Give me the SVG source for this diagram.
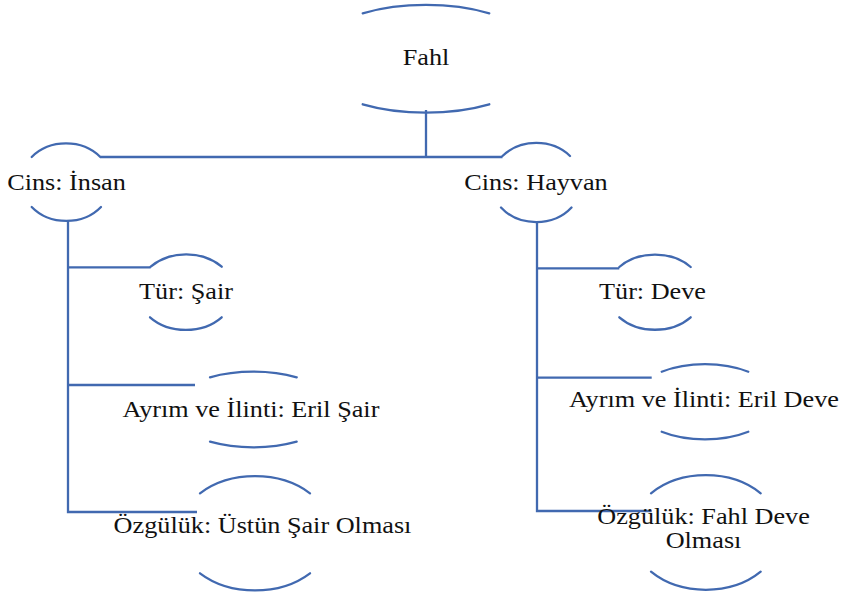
<svg xmlns="http://www.w3.org/2000/svg" width="843" height="596" viewBox="0 0 843 596">
<style>
.arc{fill:none;stroke:#4169B0;stroke-width:2.3;stroke-linecap:round}
.con{fill:none;stroke:#4169B0;stroke-width:2.3}
text{font-size:23px;fill:#111;text-anchor:middle}
</style>
<rect width="843" height="596" fill="#fff"/>
<g id="connectors">
<path class="con" d="M426,110 V157"/>
<path class="con" d="M100.3,157 H502.5"/>
<path class="con" d="M68,221 V512 H197"/>
<path class="con" d="M68,267.3 H150.7"/>
<path class="con" d="M68,385 H195"/>
<path class="con" d="M537,221 V511 H651.7"/>
<path class="con" d="M537,268.3 H619.3"/>
<path class="con" d="M537,377.7 H651.7"/>
</g>
<g id="fahl">
<path class="arc" d="M362.7,13.3 A117,52.5 0 0 1 489.3,13.3"/>
<path class="arc" d="M362.7,104.3 A117,52.5 0 0 0 489.3,104.3"/>
<text font-family="Liberation Serif, Noto Serif, DejaVu Serif, Times New Roman, serif" transform="translate(426,65) scale(1.14,1)">Fahl</text>
</g>
<g id="cins-insan">
<path class="arc" d="M31.7,157 A45,38.5 0 0 1 100.3,157"/>
<path class="arc" d="M31.7,207 A45,38.5 0 0 0 101,207"/>
<text font-family="Liberation Serif, Noto Serif, DejaVu Serif, Times New Roman, serif" transform="translate(66.5,189.5) scale(1.14,1)">Cins: İnsan</text>
</g>
<g id="cins-hayvan">
<path class="arc" d="M502.5,156 A45,38.5 0 0 1 570,156"/>
<path class="arc" d="M501,207.5 A45,38.5 0 0 0 571.5,207.5"/>
<text font-family="Liberation Serif, Noto Serif, DejaVu Serif, Times New Roman, serif" transform="translate(536,190) scale(1.14,1)">Cins: Hayvan</text>
</g>
<g id="tur-sair">
<path class="arc" d="M150.7,266.7 A48,37.5 0 0 1 221.7,266.7"/>
<path class="arc" d="M150,317.3 A48,37.5 0 0 0 221.7,317.3"/>
<text font-family="Liberation Serif, Noto Serif, DejaVu Serif, Times New Roman, serif" transform="translate(186,299) scale(1.14,1)">Tür: Şair</text>
</g>
<g id="ayrim-sair">
<path class="arc" d="M210,377.3 A83,38 0 0 1 296.7,377.3"/>
<path class="arc" d="M210,441.7 A83,38 0 0 0 296.7,441.7"/>
<text font-family="Liberation Serif, Noto Serif, DejaVu Serif, Times New Roman, serif" transform="translate(251,416.7) scale(1.14,1)">Ayrım ve İlinti: Eril Şair</text>
</g>
<g id="ozgul-sair">
<path class="arc" d="M200,493.3 A77,57 0 0 1 310,493.3"/>
<path class="arc" d="M200,573.3 A77,57 0 0 0 310,573.3"/>
<text font-family="Liberation Serif, Noto Serif, DejaVu Serif, Times New Roman, serif" transform="translate(262.5,533) scale(1.14,1)">Özgülük: Üstün Şair Olması</text>
</g>
<g id="tur-deve">
<path class="arc" d="M619.3,267 A48,37.5 0 0 1 690.7,267"/>
<path class="arc" d="M619.3,317.3 A48,37.5 0 0 0 690.7,317.3"/>
<text font-family="Liberation Serif, Noto Serif, DejaVu Serif, Times New Roman, serif" transform="translate(652.5,299) scale(1.14,1)">Tür: Deve</text>
</g>
<g id="ayrim-deve">
<path class="arc" d="M661.7,371.7 A72,38 0 0 1 748.3,371.7"/>
<path class="arc" d="M661.7,431.7 A72,38 0 0 0 748.3,431.7"/>
<text font-family="Liberation Serif, Noto Serif, DejaVu Serif, Times New Roman, serif" transform="translate(704,406.7) scale(1.14,1)">Ayrım ve İlinti: Eril Deve</text>
</g>
<g id="ozgul-deve">
<path class="arc" d="M651,493.3 A75,57 0 0 1 760.7,493.3"/>
<path class="arc" d="M651,571.7 A75,57 0 0 0 760.7,571.7"/>
<text font-family="Liberation Serif, Noto Serif, DejaVu Serif, Times New Roman, serif" transform="translate(703.5,524) scale(1.14,1)">Özgülük: Fahl Deve</text>
<text font-family="Liberation Serif, Noto Serif, DejaVu Serif, Times New Roman, serif" transform="translate(703.5,548) scale(1.14,1)">Olması</text>
</g>
</svg>
